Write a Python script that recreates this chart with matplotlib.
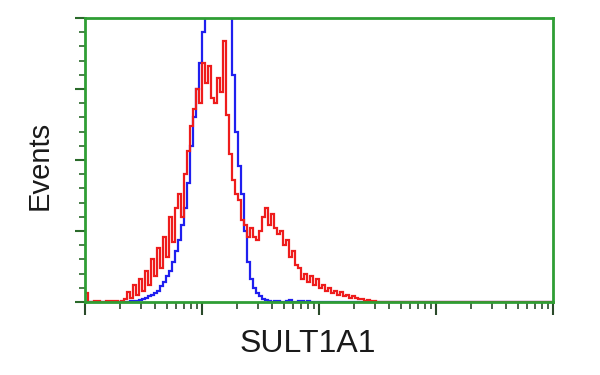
import numpy as np
import matplotlib
matplotlib.use("Agg")
import matplotlib.pyplot as plt
from matplotlib.ticker import LogLocator, MultipleLocator, NullFormatter

# histogram channels: 156 log-spaced bins over 4 decades (10^0 .. 10^4)
n_bins = 156
decades = (0, 4)

red_counts = [
    3, 0, 0, 0.5, 0.5, 0, 0, 0.5, 0.5, 0.5,
    0.5, 0, 0.5, 1, 3.5, 1.5, 6, 2.5, 8, 4,
    11, 6, 15, 9, 19, 12, 23, 16, 30, 21,
    33, 38, 30, 45, 53, 62, 68, 75, 70, 84,
    77, 83, 72, 70, 79, 74, 92, 66, 52, 43,
    38, 36, 29, 27, 23, 26, 23, 22, 25, 30,
    33, 27, 31, 26, 24, 25, 20, 22, 16, 18,
    13, 12, 8, 10, 7, 9, 6, 8, 5, 6,
    4, 5, 3, 4, 2.5, 3.5, 2, 2.5, 1.5, 2,
    1.5, 1, 1, 0.5, 0.8, 0.3, 0.3,
]
blue_counts = [
    0, 0, 0, 0, 0, 0, 0, 0, 0, 0,
    0, 0, 0, 0, 0, 0.2, 0.3, 0.5, 0.8, 1,
    1.5, 2, 2.5, 3, 4, 5.5, 7, 9, 11, 14,
    18, 22, 27, 33, 42, 55, 65, 75, 84, 95,
    115, 125, 130, 128, 125, 130, 125, 115, 100, 80,
    60, 48, 38, 25, 14, 8, 5, 3, 2, 1,
    0.7, 0.3, 0, 0.5, 0.3, 0, 0, 0.3, 0.6, 0,
    0, 0.3, 0.5, 0, 0.3,
]

def full(c):
    c = list(c) + [0] * (n_bins - len(c))
    return np.array(c, dtype=float)

edges = np.logspace(decades[0], decades[1], n_bins + 1)

fig = plt.figure(figsize=(6, 3.75), dpi=100)
ax = fig.add_axes([85 / 600, 1 - 302 / 375, 468 / 600, 284 / 375])

ax.stairs(full(blue_counts), edges, color="#1f1fef", linewidth=1.6, baseline=None)
ax.stairs(full(red_counts), edges, color="#ee1c1c", linewidth=1.6, baseline=None)

ax.set_xscale("log")
ax.set_xlim(10 ** decades[0], 10 ** decades[1])
ax.set_ylim(0, 100)

green = "#2f9e34"
for s in ax.spines.values():
    s.set_color(green)
    s.set_linewidth(2)

ax.xaxis.set_major_locator(LogLocator(base=10, numticks=10))
ax.xaxis.set_minor_locator(LogLocator(base=10, subs=np.arange(2, 10), numticks=10))
ax.xaxis.set_major_formatter(NullFormatter())
ax.xaxis.set_minor_formatter(NullFormatter())
ax.yaxis.set_major_locator(MultipleLocator(25))
ax.yaxis.set_minor_locator(MultipleLocator(5))
ax.yaxis.set_major_formatter(NullFormatter())

ax.tick_params(axis="x", which="major", direction="out", length=9, width=1.5, color="#2a4a2a")
ax.tick_params(axis="x", which="minor", direction="out", length=5, width=1.2, color="#2a4a2a")
ax.tick_params(axis="y", which="major", direction="out", length=7, width=1.5, color="#2a6a2a")
ax.tick_params(axis="y", which="minor", direction="out", length=4, width=1.2, color="#2a6a2a")

fig.text(308 / 600, 1 - 344 / 375, "SULT1A1", ha="center", va="center",
         fontsize=23, family="Liberation Sans", color="#1a1a1a")
fig.text(40 / 600, 1 - 165 / 375, "Events", ha="center", va="center", rotation=90,
         fontsize=21, family="Liberation Sans", color="#1a1a1a")

fig.savefig("out.png", dpi=100, facecolor="white")
